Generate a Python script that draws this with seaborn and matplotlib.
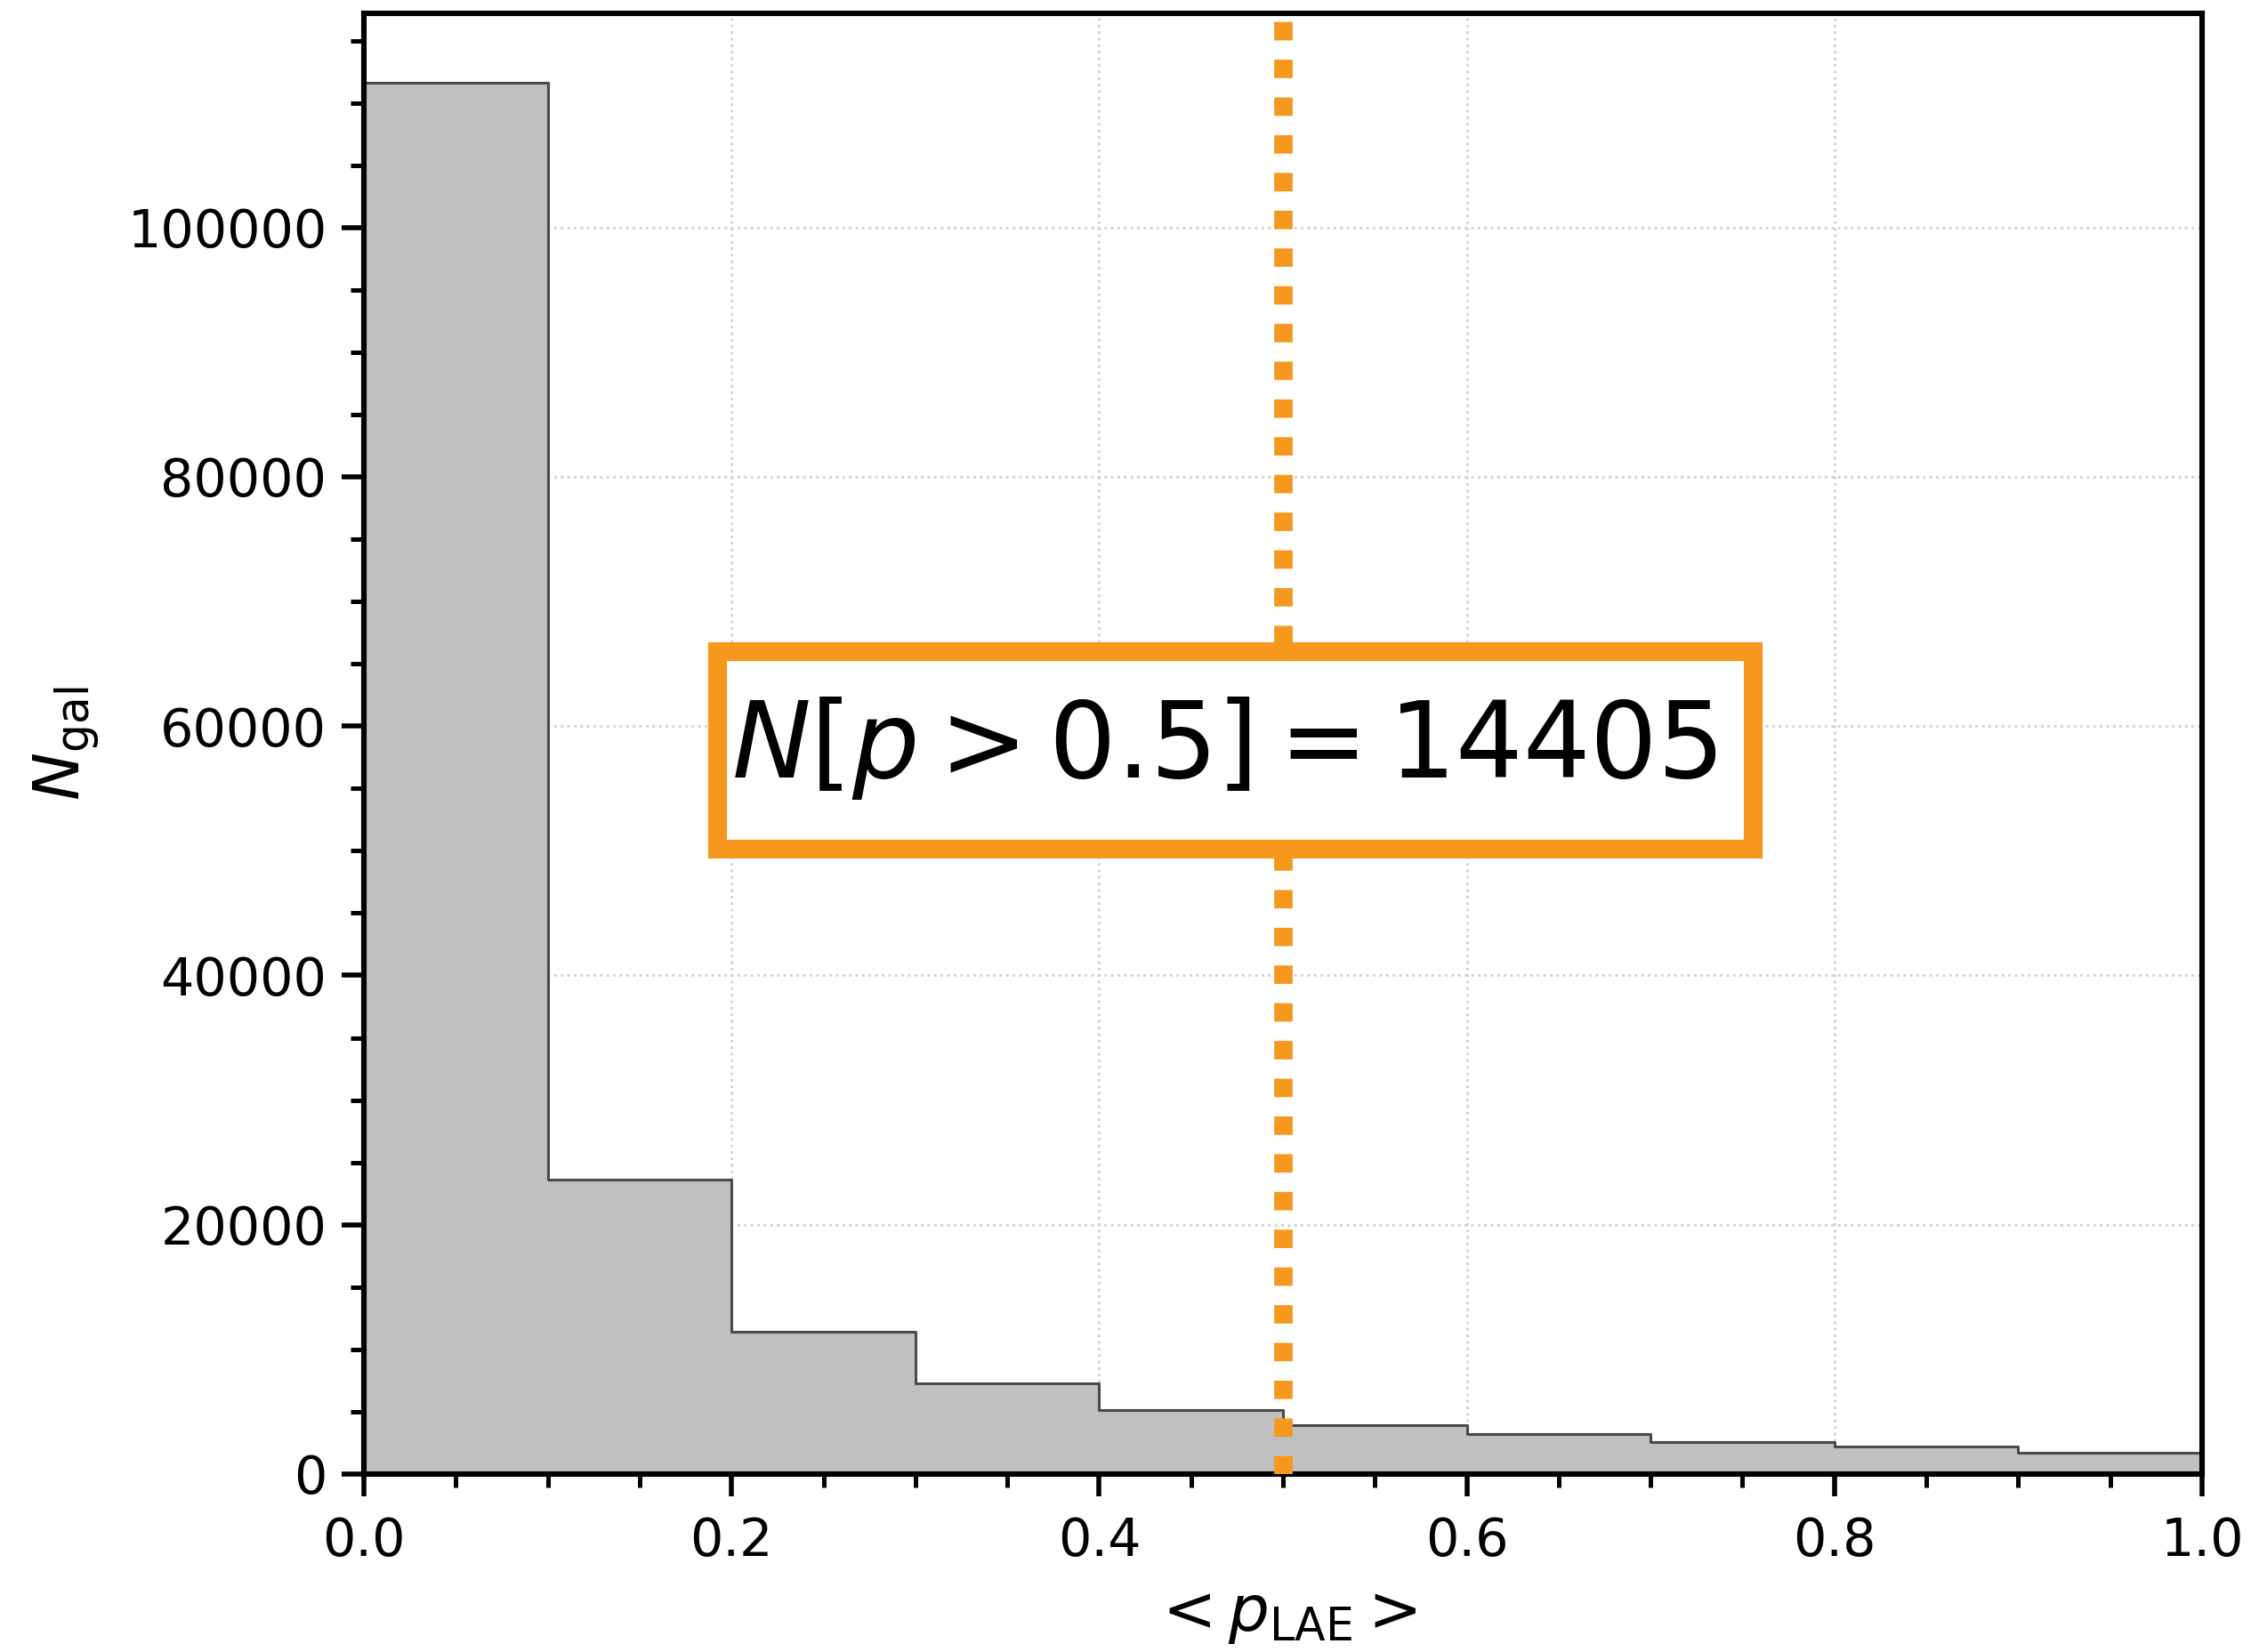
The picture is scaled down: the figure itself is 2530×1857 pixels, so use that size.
import numpy as np
import pandas as pd
import matplotlib
matplotlib.use("Agg")
import matplotlib.pyplot as plt
import seaborn as sns
from matplotlib.ticker import MultipleLocator
from matplotlib.patches import Rectangle

# Data
bin_edges = [0.0, 0.1, 0.2, 0.3, 0.4, 0.5, 0.6, 0.7, 0.8, 0.9, 1.0]
bin_centers = [0.05, 0.15, 0.25, 0.35, 0.45, 0.55, 0.65, 0.75, 0.85, 0.95]
counts = [111600, 23650, 11450, 7280, 5120, 3950, 3180, 2600, 2210, 1700]
threshold = 0.5
n_above = 14405

df = pd.DataFrame({"p": bin_centers, "n": counts})

sns.set_style("white")
plt.rcParams["font.family"] = ["DejaVu Sans"]
plt.rcParams["mathtext.fontset"] = "dejavusans"
for k in ["text.color", "axes.labelcolor", "xtick.color", "ytick.color"]:
    plt.rcParams[k] = "black"

DPI = 200
fig = plt.figure(figsize=(2530 / DPI, 1857 / DPI), dpi=DPI)
ax = fig.add_axes([409 / 2530, 1 - 1657 / 1857, (2475 - 409) / 2530, (1657 - 15) / 1857])

sns.histplot(data=df, x="p", weights="n", bins=bin_edges, element="step",
             fill=True, color="#c0c0c0", alpha=1.0, edgecolor="#4a4a4a",
             linewidth=1.1, ax=ax, zorder=2)

orange = "#f7981e"
ax.axvline(threshold, color=orange, linestyle=(0, (1, 1.05)), linewidth=7.45, zorder=3)

# annotation box
ax.add_patch(Rectangle((0.1922, 50140), 0.7555 - 0.1922, 66000 - 50140,
                       facecolor="white", edgecolor=orange, linewidth=7.6,
                       zorder=4, joinstyle="miter"))
ax.text(0.468, 58200, r"$N[p>%.1f]=%d$" % (threshold, n_above),
        fontsize=42.8, ha="center", va="center", zorder=5, color="black")

ax.set_xlim(0, 1)
ax.set_ylim(0, max(counts) * 1.05)
ax.xaxis.set_major_locator(MultipleLocator(0.2))
ax.xaxis.set_minor_locator(MultipleLocator(0.05))
ax.yaxis.set_major_locator(MultipleLocator(20000))
ax.yaxis.set_minor_locator(MultipleLocator(5000))

ax.grid(True, which="major", linestyle=":", color="#d0d0d0", linewidth=1.0, zorder=0)
ax.set_axisbelow(True)

ax.tick_params(axis="both", which="major", direction="out", length=9, width=2,
               labelsize=21.2, pad=6, bottom=True, left=True, top=False, right=False,
               colors="black")
ax.tick_params(axis="x", which="major", pad=8)
ax.tick_params(axis="both", which="minor", direction="out", length=5.5, width=1.8,
               bottom=True, left=True, top=False, right=False, colors="black")
for s in ax.spines.values():
    s.set_linewidth(2.2)
    s.set_color("black")
    s.set_visible(True)

ax.set_xlabel(r"$<p_{\rm LAE}>$", fontsize=26, labelpad=7, color="black")
ax.set_ylabel(r"$N_{\rm gal}$", fontsize=26, labelpad=10, color="black")

fig.savefig("out.png", dpi=DPI)
